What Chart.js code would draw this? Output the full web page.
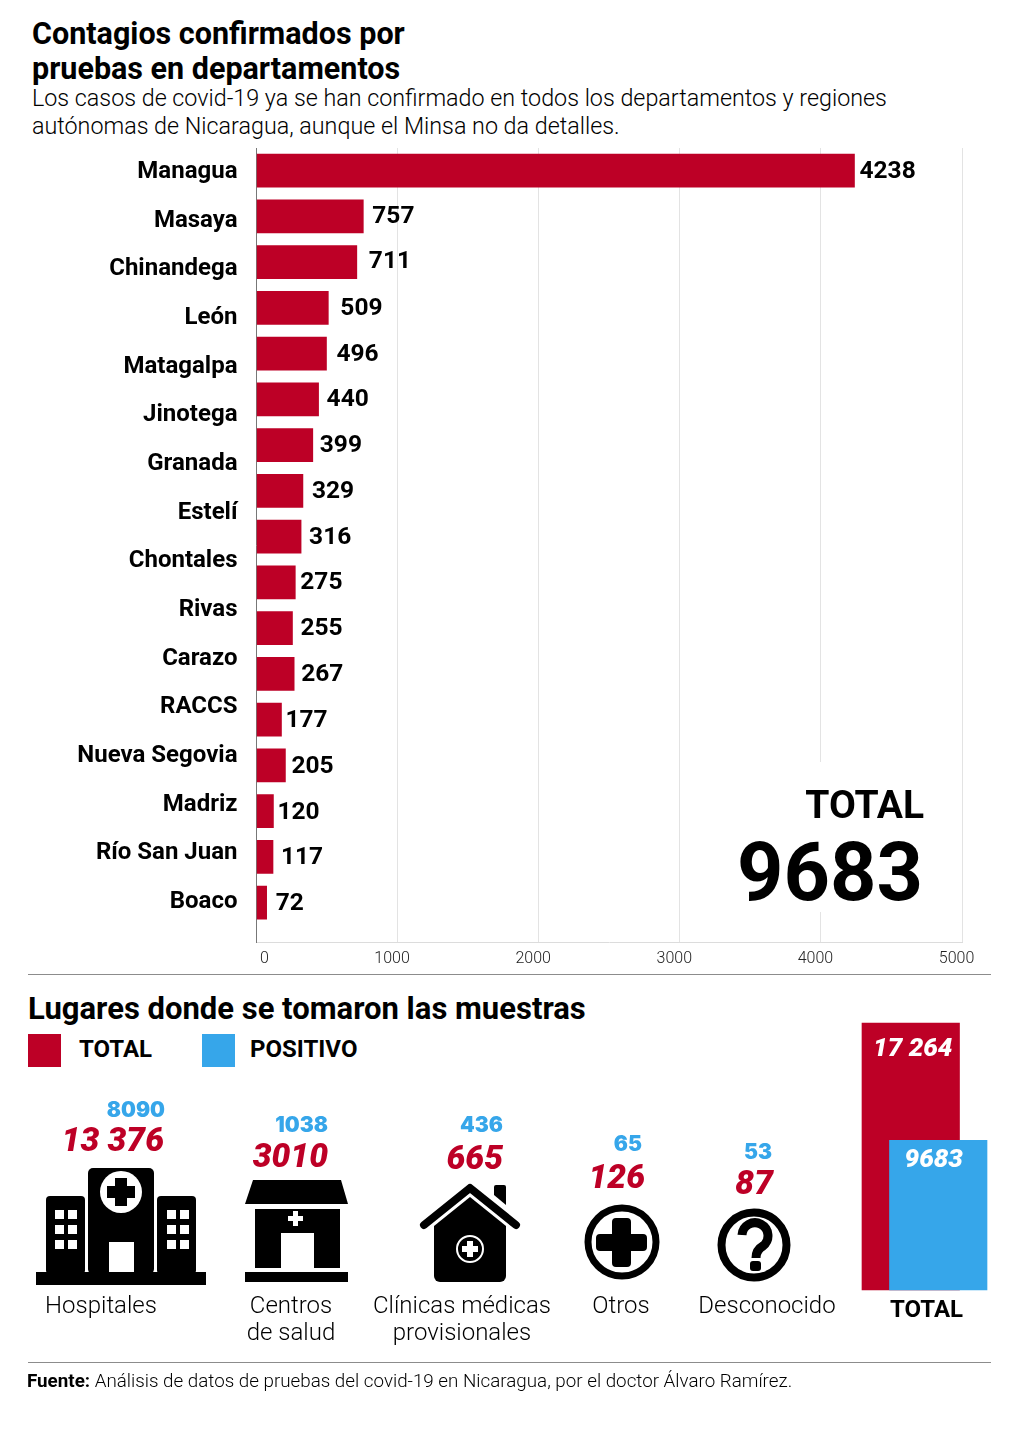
<!DOCTYPE html>
<html lang="es"><head><meta charset="utf-8">
<script src="https://cdn.jsdelivr.net/npm/chart.js@4/dist/chart.umd.min.js"></script>
<style>
html,body{margin:0;padding:0;background:#fff}
#page{position:relative;width:1024px;height:1434px;overflow:hidden;font-family:Roboto,sans-serif;color:#000}
.t{position:absolute;white-space:nowrap;line-height:1}
canvas{position:absolute}
.rule{position:absolute;left:28px;width:963px;height:1px;background:#8c8c8c}
svg{position:absolute;left:0;top:0}
.pos{font-family:Inter,Roboto,sans-serif;font-weight:900;font-size:21px;color:#36a6ea}
.tot{font-weight:900;font-style:italic;font-size:33.5px;color:#bd0026}
.name{font-weight:300;font-size:24px;text-align:center;line-height:27px}
</style></head><body>
<div id="page">
  <div class="t" style="left:32px;top:16px;font-weight:700;font-size:30.5px;line-height:35px">Contagios confirmados por<br>pruebas en departamentos</div>
  <div class="t" style="left:32px;top:84px;font-weight:300;font-size:23.3px;line-height:28px">Los casos de covid-19 ya se han confirmado en todos los departamentos y regiones<br>autónomas de Nicaragua, aunque el Minsa no da detalles.</div>
  <canvas id="bars" style="left:0;top:140px;width:1024px;height:830px"></canvas>
  <div class="t" style="left:730px;top:762px;width:194px;height:150px;background:#fff"></div>
  <div class="t" style="right:100px;top:786px;font-weight:700;font-size:39px">TOTAL</div>
  <div class="t" style="right:101px;top:832px;font-weight:700;font-size:81px">9683</div>
  <div class="rule" style="top:974px"></div>
  <div class="t" style="left:28px;top:993px;font-weight:700;font-size:31px">Lugares donde se tomaron las muestras</div>
  <div style="position:absolute;left:28px;top:1034px;width:33px;height:33px;background:#bd0026"></div>
  <div class="t" style="left:79px;top:1037px;font-weight:700;font-size:24px">TOTAL</div>
  <div style="position:absolute;left:202px;top:1034px;width:33px;height:33px;background:#36a6ea"></div>
  <div class="t" style="left:250px;top:1037px;font-weight:700;font-size:24px">POSITIVO</div>
  <svg width="1024" height="1434" viewBox="0 0 1024 1434" fill="#000">
    <!-- hospital -->
    <rect x="36" y="1272" width="170" height="13"/>
    <rect x="46" y="1196" width="39" height="78" rx="4"/>
    <rect x="88" y="1168" width="66" height="106" rx="5"/>
    <rect x="157" y="1196" width="39" height="78" rx="4"/>
    <circle cx="121" cy="1192" r="21" fill="#fff"/>
    <path d="M115 1178h12v8h8v12h-8v8h-12v-8h-8v-12h8z"/>
    <rect x="109" y="1242" width="25" height="30" fill="#fff"/>
    <g fill="#fff">
      <rect x="55" y="1210" width="9" height="9"/><rect x="68" y="1210" width="9" height="9"/>
      <rect x="55" y="1225" width="9" height="9"/><rect x="68" y="1225" width="9" height="9"/>
      <rect x="55" y="1240" width="9" height="9"/><rect x="68" y="1240" width="9" height="9"/>
      <rect x="167" y="1210" width="9" height="9"/><rect x="180" y="1210" width="9" height="9"/>
      <rect x="167" y="1225" width="9" height="9"/><rect x="180" y="1225" width="9" height="9"/>
      <rect x="167" y="1240" width="9" height="9"/><rect x="180" y="1240" width="9" height="9"/>
    </g>
    <!-- centro de salud -->
    <path d="M253 1180H341L348 1204H245z"/>
    <rect x="255" y="1209" width="85" height="59"/>
    <rect x="281" y="1233" width="33" height="35" fill="#fff"/>
    <path d="M293 1211h5v5h5v5h-5v5h-5v-5h-5v-5h5z" fill="#fff"/>
    <rect x="245" y="1272" width="103" height="10"/>
    <!-- clinica -->
    <path d="M434 1226L470 1197L506 1226V1276a6 6 0 0 1-6 6H440a6 6 0 0 1-6-6z"/>
    <path d="M424 1225L470 1188L516 1225" fill="none" stroke="#000" stroke-width="8" stroke-linecap="round" stroke-linejoin="round"/>
    <path d="M494 1187a2 2 0 0 1 2-2h8a2 2 0 0 1 2 2v18l-12-10z"/>
    <circle cx="470" cy="1249" r="13" fill="none" stroke="#fff" stroke-width="2"/>
    <path d="M467 1241h6v5h5v6h-5v5h-6v-5h-5v-6h5z" fill="#fff"/>
    <!-- otros -->
    <circle cx="622" cy="1242" r="34" fill="none" stroke="#000" stroke-width="7"/>
    <path d="M612 1222a4 4 0 0 1 4-4h11a4 4 0 0 1 4 4v12h12a4 4 0 0 1 4 4v9a4 4 0 0 1-4 4H631v12a4 4 0 0 1-4 4H616a4 4 0 0 1-4-4V1251H600a4 4 0 0 1-4-4v-9a4 4 0 0 1 4-4h12z"/>
    <!-- desconocido -->
    <circle cx="754" cy="1245" r="32.5" fill="none" stroke="#000" stroke-width="8"/>
    <path d="M742 1235a13 13 0 1 1 21 11q-7 4-7 12" fill="none" stroke="#000" stroke-width="9"/>
    <rect x="750" y="1261" width="11" height="10" rx="3"/>
  </svg>
  <div id="places"></div>
  <canvas id="totalChart" style="left:850px;top:1013px;width:150px;height:287px"></canvas>
  <div class="t" style="left:890px;top:1297px;font-weight:700;font-size:24px">TOTAL</div>
  <div class="rule" style="top:1362px"></div>
  <div class="t" style="left:27px;top:1372px;font-size:18.8px;font-weight:300"><span style="font-weight:700">Fuente:</span> Análisis de datos de pruebas del covid-19 en Nicaragua, por el doctor Álvaro Ramírez.</div>
</div>
<script>
const departments = ['Managua','Masaya','Chinandega','León','Matagalpa','Jinotega','Granada','Estelí','Chontales','Rivas','Carazo','RACCS','Nueva Segovia','Madriz','Río San Juan','Boaco'];
const caseValues = [4238,757,711,509,496,440,399,329,316,275,255,267,177,205,120,117,72];
const xTicks = [0,1000,2000,3000,4000,5000];
const placeNames = [['Hospitales'],['Centros','de salud'],['Clínicas médicas','provisionales'],['Otros'],['Desconocido']];
const placeTotals = ['13 376','3010','665','126','87'];
const placePositives = ['8090','1038','436','65','53'];
const summaryLabels = ['Total','Positivo'];
const summaryValues = [17264,9683];
const summaryText = ['17 264','9683'];

/* layout only */
const labelGaps = [5,9,12,12,10,8,7,9,8,5,8,7,4,6,4,8,9];
const labelNudgeY = [1,0.5,0,1,1,1,1,1.5,1.5,1,1,1.5,1,1.5,1.5,1.5,1.5];
const summaryNudge = [[2,26],[-4.5,20]];
const placeLayout = [
  {totRight:164,totTop:1123,posRight:165,posTop:1099,nameX:101,nameTop:1292},
  {totRight:328,totTop:1139,posRight:328,posTop:1114,nameX:291,nameTop:1292},
  {totRight:503,totTop:1141,posRight:503,posTop:1114,nameX:462,nameTop:1292},
  {totRight:645,totTop:1160,posRight:642,posTop:1133,nameX:621,nameTop:1292},
  {totRight:773,totTop:1166,posRight:772,posTop:1141,nameX:767,nameTop:1292}
];
const places = document.getElementById('places');
function addText(cls, txt, css){ const d=document.createElement('div'); d.className='t '+cls; d.textContent=txt; d.style.cssText=css; places.appendChild(d); return d; }
placeNames.forEach((lines,i)=>{
  const L=placeLayout[i];
  addText('tot',placeTotals[i],`right:${1024-L.totRight}px;top:${L.totTop}px`);
  addText('pos',placePositives[i],`right:${1024-L.posRight}px;top:${L.posTop}px`);
  const n=addText('name','',`left:${L.nameX-120}px;width:240px;top:${L.nameTop}px;line-height:27px`);
  n.innerHTML=lines.join('<br>');
});

const barValueLabels = {
  id:'barValueLabels',
  afterDatasetsDraw(chart){
    const {ctx}=chart, meta=chart.getDatasetMeta(0);
    ctx.save(); ctx.font='700 24.5px Roboto'; ctx.fillStyle='#000'; ctx.textBaseline='middle'; ctx.textAlign='left';
    meta.data.forEach((el,i)=>ctx.fillText(String(caseValues[i]),el.x+labelGaps[i],el.y+labelNudgeY[i]));
    ctx.restore();
  }
};
const nudgeZero = {
  id:'nudgeZero',
  beforeDraw(chart){
    const s=chart.scales.x, items=s.getLabelItems();
    if(items.length) items[0].options.translation=[s.getPixelForValue(0)+8,items[0].options.translation[1]];
  }
};
new Chart(document.getElementById('bars'),{
  type:'bar',
  data:{datasets:[{data:caseValues.map((v,i)=>({x:v,y:i})),backgroundColor:'#bd0026',barThickness:33,yAxisID:'y',xAxisID:'x'}]},
  plugins:[barValueLabels,nudgeZero],
  options:{
    indexAxis:'y',responsive:false,animation:false,
    devicePixelRatio:1,
    layout:{padding:{top:8,right:62,bottom:0,left:0}},
    plugins:{legend:{display:false},tooltip:{enabled:false}},
    scales:{
      x:{type:'linear',position:'bottom',min:0,max:5000,
        afterBuildTicks:a=>{a.ticks=xTicks.map(v=>({value:v}));},
        afterFit:a=>{a.height=28;a.paddingLeft=0;a.paddingRight=0;},
        grid:{color:'#e3e3e3',lineWidth:1,drawTicks:false},
        border:{color:'#dcdcdc'},
        ticks:{callback:v=>String(v),font:{family:'Roboto',size:16,weight:'300'},color:'#222',padding:7,labelOffset:-5.5,maxRotation:0,autoSkip:false}},
      y:{type:'linear',offset:false,reverse:true,display:false,min:-0.493,max:16.862,grid:{display:false,offset:false}},
      yLabels:{type:'linear',offset:false,reverse:true,position:'left',min:-0.493,max:15.821,
        afterBuildTicks:a=>{a.ticks=departments.map((_,i)=>({value:i}));},
        afterFit:a=>{a.width=256.5;a.paddingTop=0;a.paddingBottom=0;},
        grid:{display:false,drawTicks:false,offset:false},
        border:{color:'#777',display:true},
        ticks:{autoSkip:false,callback:v=>departments[v]||'',font:{family:'Roboto',size:24,weight:'700'},color:'#000',padding:19}}
    }
  }
});

const summaryBarLabels = {
  id:'summaryBarLabels',
  afterDatasetsDraw(chart){
    const {ctx}=chart, meta=chart.getDatasetMeta(0);
    ctx.save(); ctx.font='italic 900 26px Roboto'; ctx.fillStyle='#fff'; ctx.textAlign='center'; ctx.textBaseline='middle';
    meta.data.forEach((el,i)=>ctx.fillText(summaryText[i],el.x+summaryNudge[i][0],el.y+summaryNudge[i][1]));
    ctx.restore();
  }
};
new Chart(document.getElementById('totalChart'),{
  type:'bar',
  data:{labels:summaryLabels,datasets:[{data:summaryValues,backgroundColor:['#bd0026','#36a6ea'],barThickness:97.5,clip:false}]},
  plugins:[summaryBarLabels],
  options:{
    responsive:false,animation:false,devicePixelRatio:1,
    layout:{padding:{left:47,right:48,top:10,bottom:10}},
    plugins:{legend:{display:false},tooltip:{enabled:false}},
    scales:{
      x:{display:false,offset:true},
      y:{display:false,min:0,max:17264}
    }
  }
});
</script>
</body></html>
